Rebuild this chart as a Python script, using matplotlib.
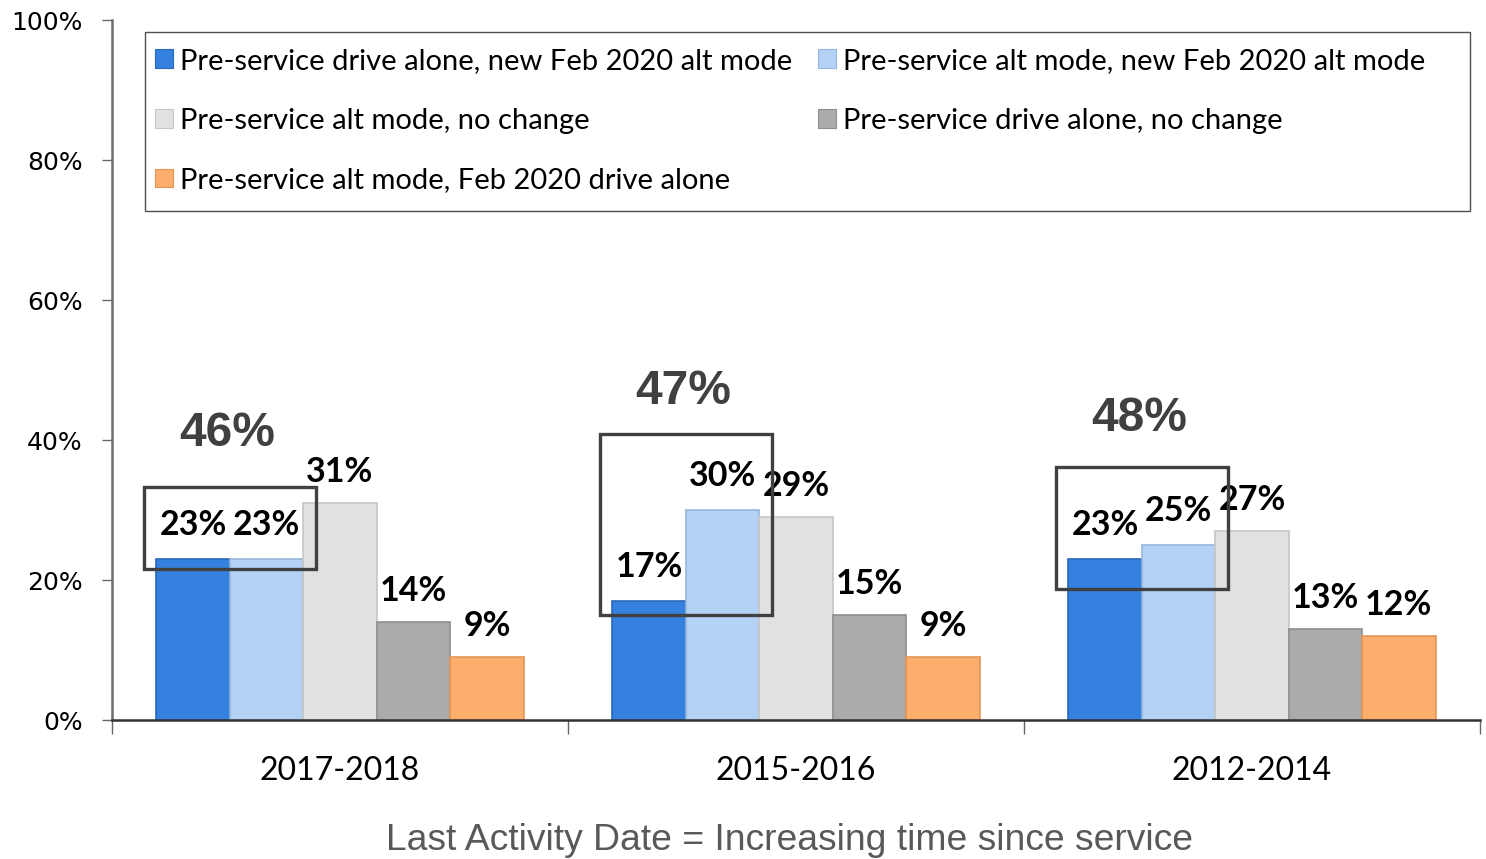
import matplotlib
matplotlib.use("Agg")
import matplotlib.pyplot as plt
from matplotlib.patches import Rectangle, Patch
import numpy as np

# ---------------- data ----------------
categories = ['2017-2018', '2015-2016', '2012-2014']
series_names = [
    'Pre-service drive alone, new Feb 2020 alt mode',
    'Pre-service alt mode, new Feb 2020 alt mode',
    'Pre-service alt mode, no change',
    'Pre-service drive alone, no change',
    'Pre-service alt mode, Feb 2020 drive alone',
]
drive_alone_new_alt = [23, 17, 23]
alt_new_alt = [23, 30, 25]
alt_no_change = [31, 29, 27]
drive_alone_no_change = [14, 15, 13]
alt_to_drive_alone = [9, 9, 12]
series_values = [drive_alone_new_alt, alt_new_alt, alt_no_change,
                 drive_alone_no_change, alt_to_drive_alone]
y_ticks = [0, 20, 40, 60, 80, 100]
y_tick_labels = ['0%', '20%', '40%', '60%', '80%', '100%']
x_title = 'Last Activity Date = Increasing time since service'

# ---------------- style ----------------
colors = ['#3581E0', '#B4D2F6', '#E1E1E1', '#ABABAB', '#FDAE6C']
edges = ['#2A68BA', '#97B6DC', '#C6C6C6', '#8E8E8E', '#E39656']
bar_w = 0.161
box_pad_x = 0.028
box_bottom_pad = [1.4, 2.0, 4.3]
box_top_pad = [10.3, 10.9, 11.1]
total_offset = [7.6, 6.1, 7.0]
label_font = 'Lato'

W, H = 1486, 859
fig = plt.figure(figsize=(W / 100, H / 100), dpi=100)
ax = fig.add_axes([112 / W, 139 / H, 1368 / W, 700 / H])

ng = len(categories)
centers = np.arange(ng) + 0.5
ns = len(series_values)
offs = (np.arange(ns) - (ns - 1) / 2) * bar_w

for s, vals in enumerate(series_values):
    xs = centers + offs[s]
    ax.bar(xs, vals, width=bar_w, color=colors[s], edgecolor=edges[s],
           linewidth=1.2, zorder=2)
    for g, v in enumerate(vals):
        dy = 24.5 if s < 2 else 22.3
        ax.annotate(f'{v}%', (xs[g], v), xytext=(0, dy), textcoords='offset points',
                    ha='center', va='center', fontsize=24.5, fontweight='bold',
                    family=label_font, color='black', zorder=4)

# boxes and totals
for g in range(ng):
    v0 = series_values[0][g]
    v1 = series_values[1][g]
    x0 = centers[g] + offs[0] - bar_w / 2 - box_pad_x
    x1 = centers[g] + offs[1] + bar_w / 2 + box_pad_x
    y0 = min(v0, v1) - box_bottom_pad[g]
    y1 = max(v0, v1) + box_top_pad[g]
    ax.add_patch(Rectangle((x0, y0), x1 - x0, y1 - y0, fill=False,
                           edgecolor='#404040', linewidth=2.4, zorder=5))
    ax.text((x0 + x1) / 2 - 0.005, y1 + total_offset[g], f'{v0 + v1}%', ha='center',
            va='center', fontsize=34.5, fontweight='bold', family='Liberation Sans',
            color='#404040', zorder=5)

ax.set_xlim(0, ng)
ax.set_ylim(0, 100)
ax.set_yticks(y_ticks)
ax.set_yticklabels(y_tick_labels, family='DejaVu Sans', fontsize=18)
ax.tick_params(axis='y', length=7, width=1, color='#666666', pad=14)
ax.set_xticks(np.arange(ng + 1))
ax.set_xticklabels([])
ax.tick_params(axis='x', which='major', length=10, width=1, color='#666666')
ax.set_xticks(centers, minor=True)
ax.set_xticklabels(categories, minor=True, family=label_font, fontsize=23)
ax.tick_params(axis='x', which='minor', length=0, pad=26)

for sp in ['top', 'right']:
    ax.spines[sp].set_visible(False)
ax.spines['left'].set_color('#6E6E6E')
ax.spines['left'].set_linewidth(1.8)
ax.spines['bottom'].set_color('#333333')
ax.spines['bottom'].set_linewidth(1.8)

# legend
handles = [Patch(facecolor=colors[i], edgecolor=edges[i], linewidth=0.8)
           for i in range(ns)]
lkw = dict(loc='upper left', frameon=False, prop={'family': label_font, 'size': 21},
           handlelength=0.6, handleheight=0.6, handletextpad=0.27,
           labelspacing=1.15, borderpad=0, borderaxespad=0)
fig.legend([handles[0], handles[2], handles[4]],
           [series_names[0], series_names[2], series_names[4]],
           bbox_to_anchor=(155 / W, 1 - 48 / H), **lkw)
fig.legend([handles[1], handles[3]],
           [series_names[1], series_names[3]],
           bbox_to_anchor=(818 / W, 1 - 48 / H), **lkw)
fig.patches.append(Rectangle((145 / W, 1 - 211 / H), (1470 - 145) / W, (211 - 32) / H,
                             transform=fig.transFigure, fill=False,
                             edgecolor='#505050', linewidth=1.0))

fig.text(789 / W, 1 - 840 / H, x_title, ha='center', va='center',
         family='Liberation Sans', fontsize=26.8, color='#595959')

fig.savefig('out.png', dpi=100)
